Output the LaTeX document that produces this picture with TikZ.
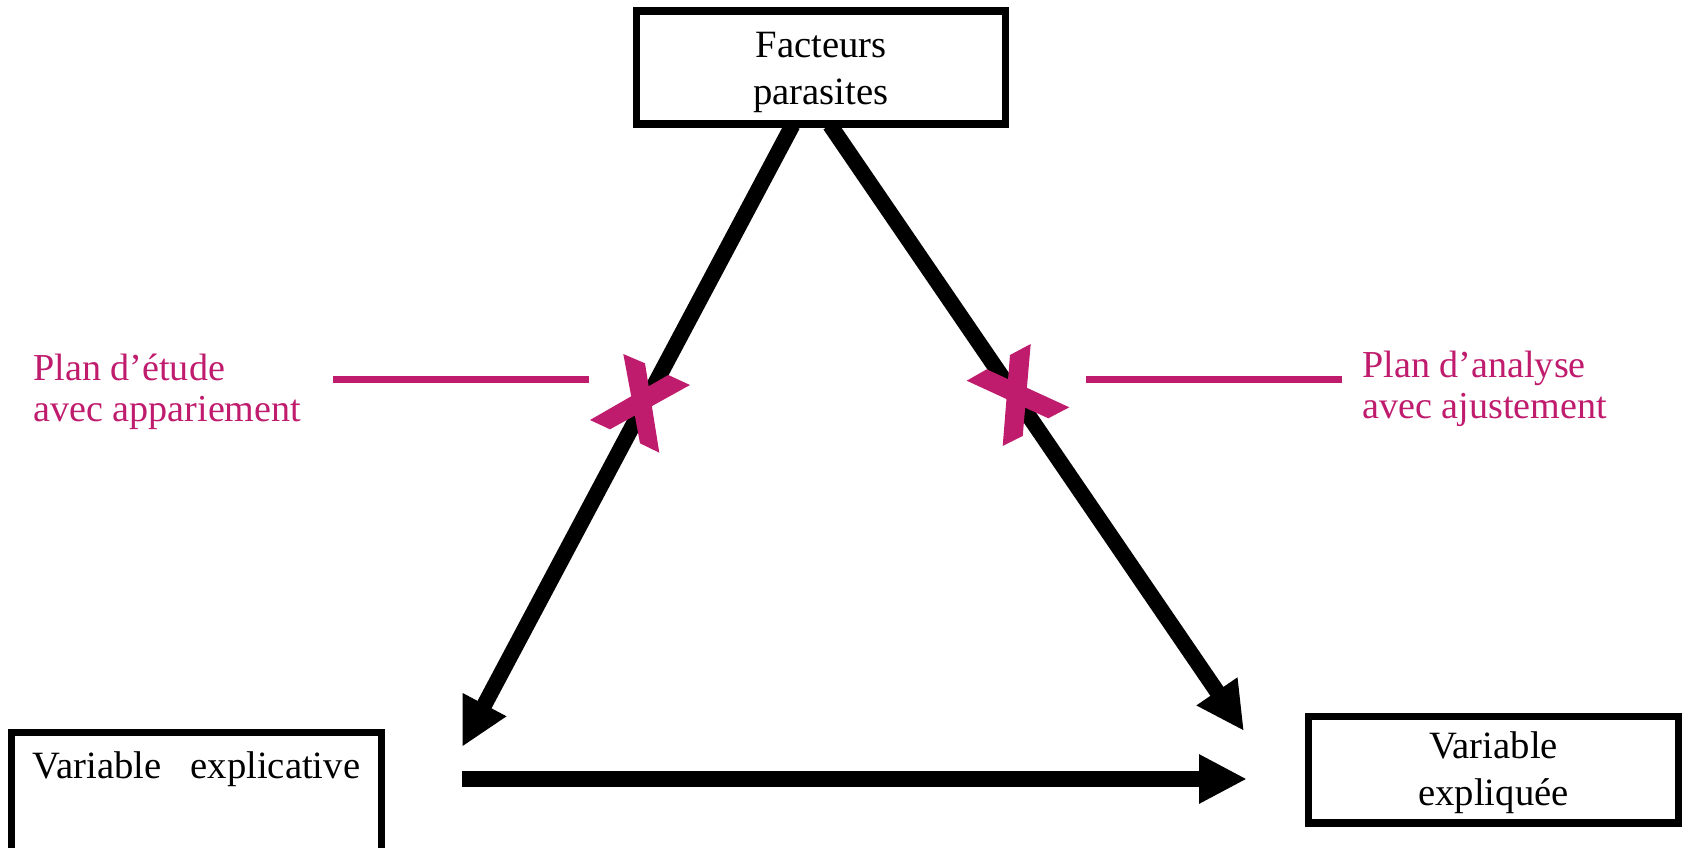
\documentclass[tikz,border=0pt]{standalone}
\usepackage{fontspec}
\setmainfont{Liberation Serif}
\usetikzlibrary{arrows.meta}
\definecolor{plum}{RGB}{192,28,110}

\begin{document}
\begin{tikzpicture}[x=0.02cm, y=-0.02cm,
    box/.style={draw, line width=4pt, align=center, inner sep=0pt,
        minimum width=7.4cm, font=\fontsize{22}{27}\selectfont},
    bigarrow/.style={line width=9pt, -{Triangle[length=0.96cm, width=0.92cm]}},
    markline/.style={draw=plum, line width=4pt},
    marklabel/.style={text=plum, align=left, anchor=base west, inner sep=0pt,
        font=\fontsize{21.7}{22.8}\selectfont}]
    \useasboundingbox (0,0) rectangle (1685,848);

    % the three boxes
    \node[box, minimum height=2.26cm, text height=47pt] (parasites) at (821,67.5) {Facteurs\\parasites};
    \node[box, minimum height=2.4cm, text depth=4.2pt] (explicative) at (196.5,792) {Variable~~~explicative\\~};
    \node[box, minimum height=2.14cm, text height=45.6pt] (expliquee) at (1493.5,769.5) {Variable\\expliquée};

    % arrow ends
    \coordinate (fromL) at (792.6,125);
    \coordinate (toL) at (462,747);
    \coordinate (fromR) at (830,125);
    \coordinate (toR) at (1244,731);
    \coordinate (fromB) at (462,779);
    \coordinate (toB) at (1247,779);
    \draw[bigarrow] (fromL) -- (toL);
    \draw[bigarrow] (fromR) -- (toR);
    \draw[bigarrow] (fromB) -- (toB);

    % crosses
    \fill[plum] (623.3,354) -- (645,363.3) -- (659.3,452.7) -- (640,443.3) -- cycle;
    \fill[plum] (590,420) -- (610,429.3) -- (690,385) -- (668.3,375) -- cycle;
    \fill[plum] (1010,355) -- (1030.7,344) -- (1022.7,436) -- (1002.7,446) -- cycle;
    \fill[plum] (966.7,380.7) -- (986.7,369.3) -- (1069.3,407.3) -- (1048.3,418.3) -- cycle;

    % labels and their lines
    \node[marklabel] (etude) at (33,421) {Plan d’étude\\avec appariement};
    \node[marklabel] (analyse) at (1362,418) {Plan d’analyse\\avec ajustement};
    \coordinate (etudeA) at (333,379.5);
    \coordinate (etudeB) at (589,379.5);
    \coordinate (analyseA) at (1086,379.5);
    \coordinate (analyseB) at (1342,379.5);
    \draw[markline] (etudeA) -- (etudeB);
    \draw[markline] (analyseA) -- (analyseB);
\end{tikzpicture}
\end{document}
